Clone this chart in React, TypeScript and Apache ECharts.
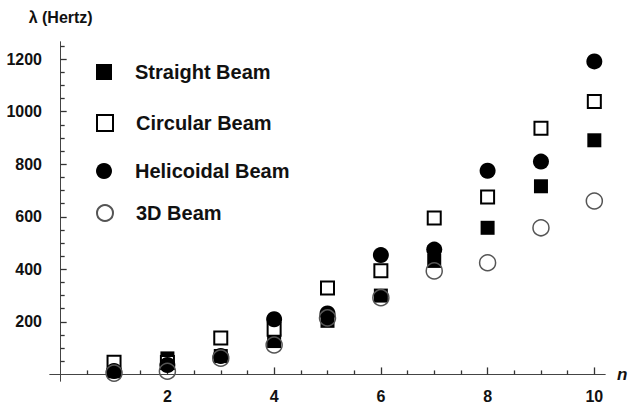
import React, { useEffect, useRef } from "react";
import * as echarts from "echarts";

const nValues = [1, 2, 3, 4, 5, 6, 7, 8, 9, 10];
const straightBeam = [12, 61, 70, 127, 204, 300, 432, 558, 716, 891];
const circularBeam = [46, 45, 139, 172, 329, 395, 595, 675, 937, 1039];
const helicoidalBeam = [13, 36, 70, 210, 232, 454, 475, 775, 810, 1191];
const beam3D = [5, 12, 62, 112, 215, 292, 394, 425, 558, 660];

const xMajorTicks = [2, 4, 6, 8, 10];
const xMinorTicks = [0.5, 1, 1.5, 2.5, 3, 3.5, 4.5, 5, 5.5, 6.5, 7, 7.5, 8.5, 9, 9.5];
const yMajorTicks = [200, 400, 600, 800, 1000, 1200];
const yMinorTicks = [50, 100, 150, 250, 300, 350, 450, 500, 550, 650, 700, 750, 850, 900, 950, 1050, 1100, 1150, 1250];

const FONT = "'Liberation Sans', Arial, sans-serif";
const AXIS_COLOR = "#444";

export default function App() {
  const ref = useRef<HTMLDivElement>(null);
  useEffect(() => {
    if (!ref.current) return;
    const chart = echarts.init(ref.current, null, { renderer: "svg" });
    const pairs = (vals: number[]) => nValues.map((n, i) => [n, vals[i]]);
    const lineStyle = () => ({ color: AXIS_COLOR, width: 1 });
    const tickStyle = () => ({ color: "#333", width: 1.3 });
    const labelStyle = { color: "#111", fontFamily: FONT, fontWeight: "bold" as const, fontSize: 16 };
    const legendText = { color: "#111", fontFamily: FONT, fontWeight: "bold" as const, fontSize: 20, lineHeight: 20, padding: [0, 0, 0, 18] };
    const legendRow = (name: string, top: number) => ({
      data: [name],
      left: 96,
      top,
      padding: 0,
      itemWidth: 16,
      itemHeight: 16,
      selectedMode: false,
      textStyle: legendText,
    });
    chart.setOption({
      animation: false,
      backgroundColor: "#fff",
      grid: { left: 50, top: 42, width: 555, height: 340, containLabel: false },
      legend: [
        legendRow("Straight Beam", 62),
        legendRow("Circular Beam", 113),
        legendRow("Helicoidal Beam", 161),
        legendRow("3D Beam", 203),
      ],
      xAxis: [
        {
          type: "value",
          min: -0.2,
          max: 10.2,
          position: "bottom",
          axisLine: { show: true, onZero: true, onZeroAxisIndex: 0, lineStyle: lineStyle() },
          axisTick: { show: true, inside: true, length: 7, customValues: xMajorTicks, lineStyle: tickStyle() },
          axisLabel: { show: true, customValues: xMajorTicks, margin: 7, formatter: (v: number) => String(v), ...labelStyle },
          splitLine: { show: false },
          name: "n",
          nameLocation: "end",
          nameGap: 12,
          nameTextStyle: { color: "#111", fontFamily: FONT, fontWeight: "bold", fontStyle: "italic", fontSize: 17, padding: [4, 0, 0, 0] },
        },
        {
          type: "value",
          min: -0.2,
          max: 10.2,
          position: "bottom",
          axisLine: { show: true, onZero: true, onZeroAxisIndex: 0, lineStyle: lineStyle() },
          axisTick: { show: true, inside: true, length: 4, customValues: xMinorTicks, lineStyle: tickStyle() },
          axisLabel: { show: false },
          splitLine: { show: false },
        },
      ],
      yAxis: [
        {
          type: "value",
          min: -25,
          max: 1265,
          position: "left",
          axisLine: { show: true, onZero: true, onZeroAxisIndex: 0, lineStyle: lineStyle() },
          axisTick: { show: true, inside: true, length: 6, customValues: yMajorTicks, lineStyle: tickStyle() },
          axisLabel: { show: true, customValues: yMajorTicks, margin: 8, formatter: (v: number) => String(v), ...labelStyle },
          splitLine: { show: false },
          name: "λ (Hertz)",
          nameLocation: "end",
          nameGap: 17,
          nameTextStyle: { color: "#111", fontFamily: FONT, fontWeight: "bold", fontSize: 16 },
        },
        {
          type: "value",
          min: -25,
          max: 1265,
          position: "left",
          axisLine: { show: true, onZero: true, onZeroAxisIndex: 0, lineStyle: lineStyle() },
          axisTick: { show: true, inside: true, length: 4, customValues: yMinorTicks, lineStyle: tickStyle() },
          axisLabel: { show: false },
          splitLine: { show: false },
        },
      ],
      series: [
        {
          name: "Straight Beam",
          type: "scatter",
          xAxisIndex: 0,
          yAxisIndex: 0,
          symbol: "rect",
          symbolSize: 14,
          itemStyle: { color: "#000", opacity: 1 },
          data: pairs(straightBeam),
        },
        {
          name: "Circular Beam",
          type: "scatter",
          xAxisIndex: 0,
          yAxisIndex: 0,
          symbol: "rect",
          symbolSize: 13,
          itemStyle: { color: "#fff", borderColor: "#000", borderWidth: 2, opacity: 1 },
          data: pairs(circularBeam),
        },
        {
          name: "Helicoidal Beam",
          type: "scatter",
          xAxisIndex: 0,
          yAxisIndex: 0,
          symbol: "circle",
          symbolSize: 16,
          itemStyle: { color: "#000", opacity: 1 },
          data: pairs(helicoidalBeam),
        },
        {
          name: "3D Beam",
          type: "scatter",
          xAxisIndex: 0,
          yAxisIndex: 0,
          symbol: "circle",
          symbolSize: 16,
          itemStyle: { color: "rgba(255,255,255,0)", borderColor: "#555", borderWidth: 1.5, opacity: 1 },
          data: pairs(beam3D),
        },
      ],
    });
    return () => chart.dispose();
  }, []);
  return (
    <div
      ref={ref}
      style={{ position: "fixed", left: 0, top: 0, width: 638, height: 404, background: "#fff" }}
    />
  );
}
